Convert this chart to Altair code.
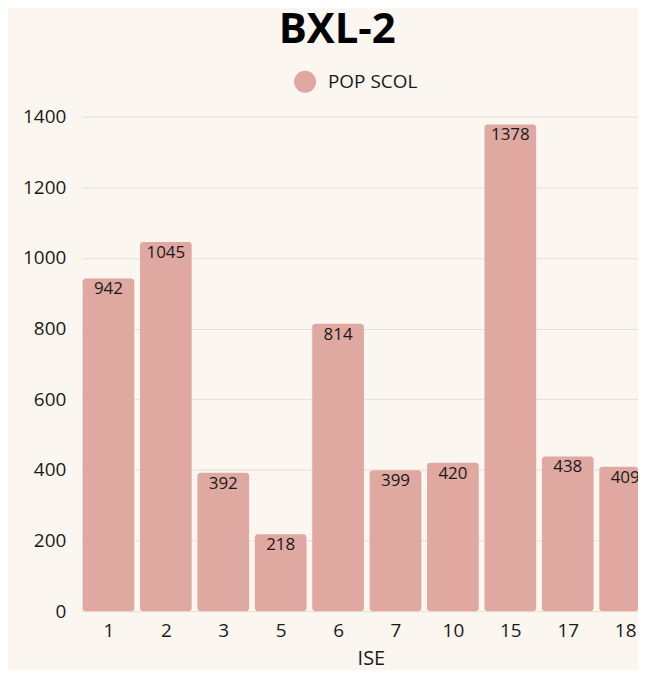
import json
import altair as alt
import pandas as pd

ise = ["1", "2", "3", "5", "6", "7", "10", "15", "17", "18"]
pop_scol = [942, 1045, 392, 218, 814, 399, 420, 1378, 438, 409]
series = ["POP SCOL"] * len(ise)
y_ticks = [0, 200, 400, 600, 800, 1000, 1200, 1400]
position = list(range(len(ise)))

df = pd.DataFrame({"pos": position, "ISE": ise, "POP": pop_scol, "serie": series})

FONT = "Open Sans"
BAR = "#DFA8A0"
TXT = "#1a1a1a"
label_expr = json.dumps(ise) + "[datum.value]"

xscale = alt.Scale(domain=[-0.464, 9.2235], clamp=True, nice=False, zero=False)
yscale = alt.Scale(domain=[0, 1400], nice=False)

base = alt.Chart(df).transform_calculate(
    x0="datum.pos - 0.45", x1="datum.pos + 0.45"
)

bars = base.mark_bar(color=BAR, cornerRadius=3).encode(
    x=alt.X("x0:Q", scale=xscale, title="ISE",
            axis=alt.Axis(values=position, labelExpr=label_expr,
                          labelAngle=0, labelFontSize=19, titleFontSize=20,
                          titleFontWeight="normal", labelColor=TXT,
                          titleColor=TXT, domain=False, ticks=False,
                          labelPadding=10, titlePadding=9, grid=False,
                          titleX=290)),
    x2="x1:Q",
    y=alt.Y("POP:Q", title=None, scale=yscale,
            axis=alt.Axis(values=y_ticks, format="d",
                          labelFontSize=19, labelColor=TXT, domain=False,
                          ticks=False, labelPadding=16, gridColor="#E4DFD9")),
    y2=alt.datum(0),
    color=alt.Color("serie:N", scale=alt.Scale(range=[BAR]),
                    legend=alt.Legend(title=None, orient="none", legendX=213, legendY=-46,
                                      symbolType="circle", symbolSize=484,
                                      labelFontSize=19, labelOffset=12,
                                      labelColor=TXT, symbolStrokeWidth=0,
                                      direction="horizontal")),
)

labels = base.mark_text(baseline="top", dy=3, fontSize=17, color=TXT, font=FONT,
                        clip=True).encode(
    x=alt.X("pos:Q", scale=xscale),
    y=alt.Y("POP:Q", scale=yscale),
    text=alt.Text("POP:Q", format="d"),
)

chart = (bars + labels).properties(
    width=558, height=496,
    background="#FBF6F0",
    padding={"left": 14, "top": 0, "right": 0, "bottom": 0},
    title=alt.TitleParams("BXL-2", fontSize=42, fontWeight="bold", color="#000",
                          anchor="middle", frame="bounds", offset=19, dx=7, font=FONT),
).configure(font=FONT).configure_view(stroke=None)

chart.save("out.html", embed_options={"renderer": "svg", "actions": False})
